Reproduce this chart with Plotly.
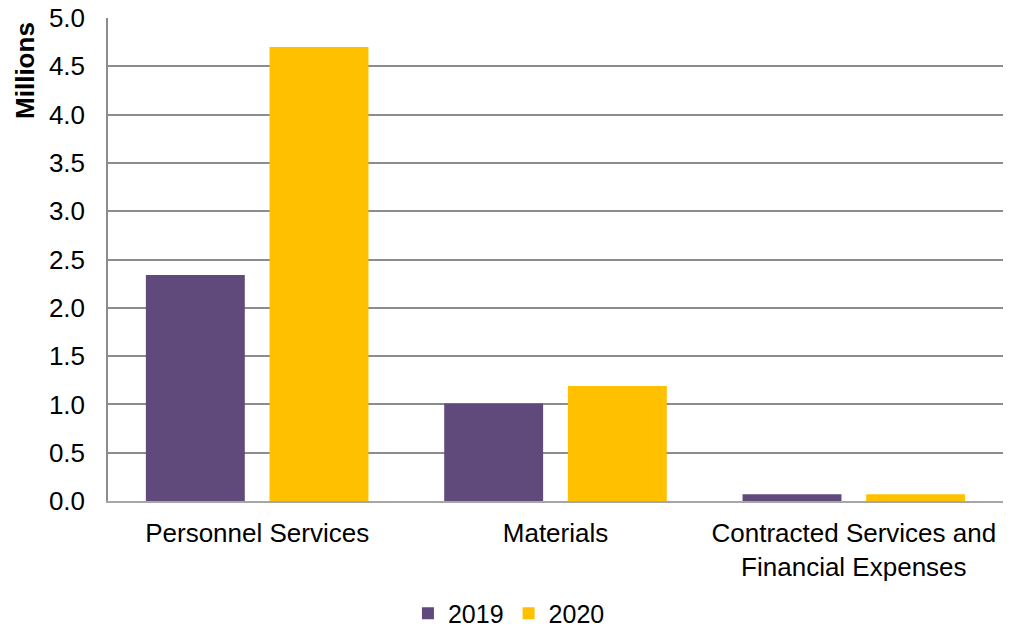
import plotly.graph_objects as go

categories = ["Personnel Services", "Materials", "Contracted Services and<br>Financial Expenses"]
values_2019 = [2.34, 1.01, 0.07]
values_2020 = [4.70, 1.19, 0.07]
series_names = ["2019", "2020"]
colors = ["#604A7B", "#FFC000"]
y_ticks = [0.0, 0.5, 1.0, 1.5, 2.0, 2.5, 3.0, 3.5, 4.0, 4.5, 5.0]
y_title = "Millions"

font_family = "Liberation Sans, Arial, sans-serif"

fig = go.Figure()
for name, vals, col in zip(series_names, [values_2019, values_2020], colors):
    fig.add_trace(go.Bar(x=categories, y=vals, name=name, marker=dict(color=col, line=dict(width=0))))

fig.update_layout(
    width=1014, height=631,
    margin=dict(l=108, r=11, t=18, b=130, autoexpand=False),
    paper_bgcolor="white", plot_bgcolor="white",
    barmode="group", bargap=0.171, bargroupgap=0.2,
    font=dict(family=font_family, size=26, color="black"),
    showlegend=True,
    legend=dict(orientation="h", x=0.448, xanchor="center", y=-0.233, yanchor="middle",
                font=dict(size=25), itemwidth=30, tracegroupgap=0),
)
fig.update_xaxes(
    showline=True, linecolor="#A6A6A6", linewidth=2, automargin=False,
    ticks="", tickfont=dict(size=26), ticklabelstandoff=8,
)
fig.update_yaxes(
    range=[0, 5.0], tickvals=y_ticks, ticktext=[f"{v:.1f}" for v in y_ticks],
    showgrid=True, gridcolor="#8C8C8C", gridwidth=1.5,
    showline=True, linecolor="#8C8C8C", linewidth=1.5, automargin=False,
    zeroline=False, ticks="", ticklabelstandoff=16,
    tickfont=dict(size=26),
)
# axis title sits at the top of the value axis
fig.add_annotation(
    text=f"<b>{y_title}</b>", textangle=-90, showarrow=False,
    xref="paper", yref="paper", x=-0.093, y=0.892,
    xanchor="center", yanchor="middle", font=dict(size=26),
)

fig.write_html("out.html")
